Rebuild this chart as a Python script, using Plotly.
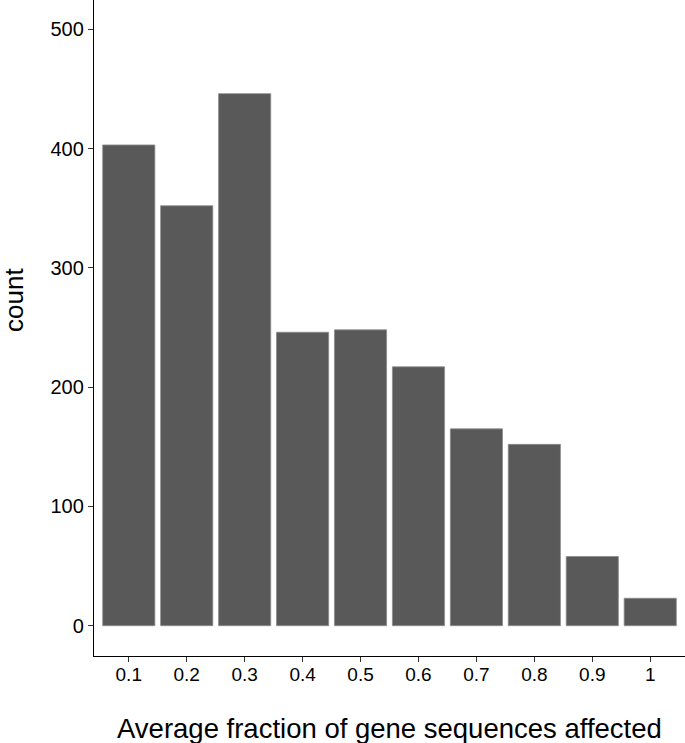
import plotly.graph_objects as go

# histogram bins (x labels) and counts
bins = ["0.1", "0.2", "0.3", "0.4", "0.5", "0.6", "0.7", "0.8", "0.9", "1"]
counts = [403, 352, 446, 246, 248, 217, 165, 152, 58, 23]
y_ticks = [0, 100, 200, 300, 400, 500]

FONT = "Liberation Sans, Arial, Helvetica, sans-serif"
BAR = "#595959"

fig = go.Figure(go.Bar(
    x=bins, y=counts, width=0.9,
    marker=dict(color=BAR, line=dict(color="#8c8c8c", width=0.8)),
))

fig.update_layout(
    width=685, height=743,
    margin=dict(l=94, r=0, t=0, b=87),
    paper_bgcolor="white", plot_bgcolor="white",
    font=dict(family=FONT, color="black", size=19),
    showlegend=False,
    annotations=[
        dict(text="Average fraction of gene sequences affected", xref="paper", yref="paper",
             x=0.5, y=(656 - 728) / 656, xanchor="center", yanchor="middle",
             showarrow=False, font=dict(size=27.5, family=FONT, color="black")),
        dict(text="count", textangle=-90, xref="paper", yref="paper",
             x=(14 - 94) / 591, y=(656 - 300) / 656, xanchor="center", yanchor="middle",
             showarrow=False, font=dict(size=26, family=FONT, color="black")),
    ],
)
fig.update_xaxes(type="category", range=[-0.6, 9.6], showgrid=False, zeroline=False,
                 showline=True, linecolor="black", linewidth=1.4,
                 ticks="outside", ticklen=5, tickwidth=1.2, tickcolor="#333",
                 ticklabelstandoff=-4,
                 tickfont=dict(size=19, color="black"))
fig.update_yaxes(range=[-25.4, 524.5], tickvals=y_ticks, showgrid=False, zeroline=False,
                 showline=True, linecolor="black", linewidth=1.4,
                 ticks="outside", ticklen=5, tickwidth=1.2, tickcolor="#333",
                 tickfont=dict(size=20, color="black"))

# page body has an 8px default margin; drop it so the figure sits at the corner
fig.write_html("out.html", config={"displayModeBar": False},
               post_script="document.body.style.margin='0';")
